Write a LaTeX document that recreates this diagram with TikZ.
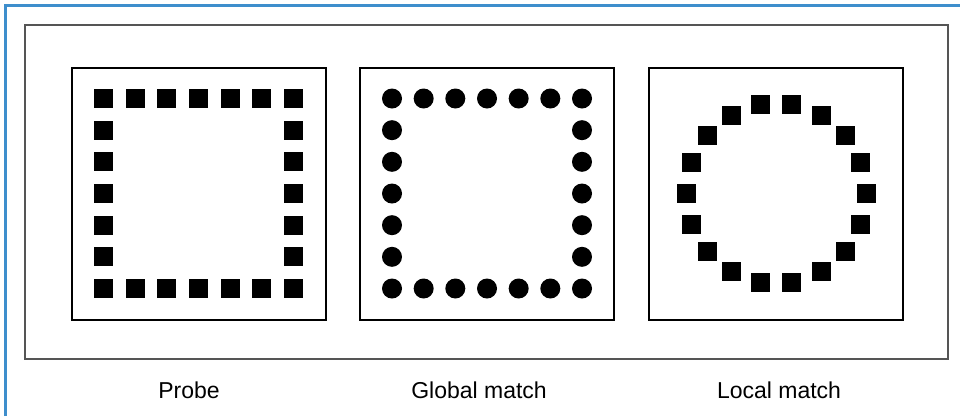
\documentclass[tikz,border=0pt]{standalone}
\usepackage{fontspec}
\setmainfont{Liberation Sans}
\usetikzlibrary{positioning,calc}
\definecolor{frameblue}{RGB}{62,142,204}
\definecolor{outergray}{RGB}{85,85,85}

\begin{document}
\begin{tikzpicture}[
  x=1pt, y=-1pt,
  panel/.style={draw=black, line width=2pt, minimum width=254pt, minimum height=252pt, inner sep=0pt},
  sqdot/.style={fill=black, minimum size=19pt, inner sep=0pt},
  rddot/.style={circle, fill=black, minimum size=20pt, inner sep=0pt},
  caption/.style={anchor=base, font=\fontsize{23}{28}\selectfont}
]
  \useasboundingbox (0,0) rectangle (960,416);
  % blue page edge (top and left only)
  \coordinate (edgeb) at (5.5,416);
  \coordinate (edgec) at (5.5,5.5);
  \coordinate (edger) at (960,5.5);
  \draw[frameblue, line width=2.2pt] (edgeb) -- (edgec) -- (edger);
  \node[draw=outergray, line width=2pt, minimum width=923.5pt, minimum height=334pt] (outer) at (486.25,191.5) {};

  \node[panel] (probe) at (198.5,193.5) {};
  \node[panel] (global) at (487,193.5) {};
  \node[panel] (local) at (776.3,193.5) {};

  % probe: squares on a square
  \foreach \i in {0,...,6} {
    \node[sqdot] (pt-\i) at ($(probe.center)+(-95+\i*31.667,-95)$) {};
    \node[sqdot] (pb-\i) at ($(probe.center)+(-95+\i*31.667,95)$) {};
  }
  \foreach \i in {1,...,5} {
    \node[sqdot] (pl-\i) at ($(probe.center)+(-95,-95+\i*31.667)$) {};
    \node[sqdot] (pr-\i) at ($(probe.center)+(95,-95+\i*31.667)$) {};
  }

  % global match: dots on a square
  \foreach \i in {0,...,6} {
    \node[rddot] (gt-\i) at ($(global.center)+(-95+\i*31.667,-95)$) {};
    \node[rddot] (gb-\i) at ($(global.center)+(-95+\i*31.667,95)$) {};
  }
  \foreach \i in {1,...,5} {
    \node[rddot] (gl-\i) at ($(global.center)+(-95,-95+\i*31.667)$) {};
    \node[rddot] (gr-\i) at ($(global.center)+(95,-95+\i*31.667)$) {};
  }

  % local match: squares on a circle
  \foreach \a [count=\i] in {0,20,...,340}
    \node[sqdot] (lc-\i) at ($(local.center)+(\a:90)$) {};

  \node[caption] (probecap) at (189,398.5) {Probe};
  \node[caption] (globalcap) at (479,398.5) {Global match};
  \node[caption] (localcap) at (779,398.5) {Local match};
\end{tikzpicture}
\end{document}
